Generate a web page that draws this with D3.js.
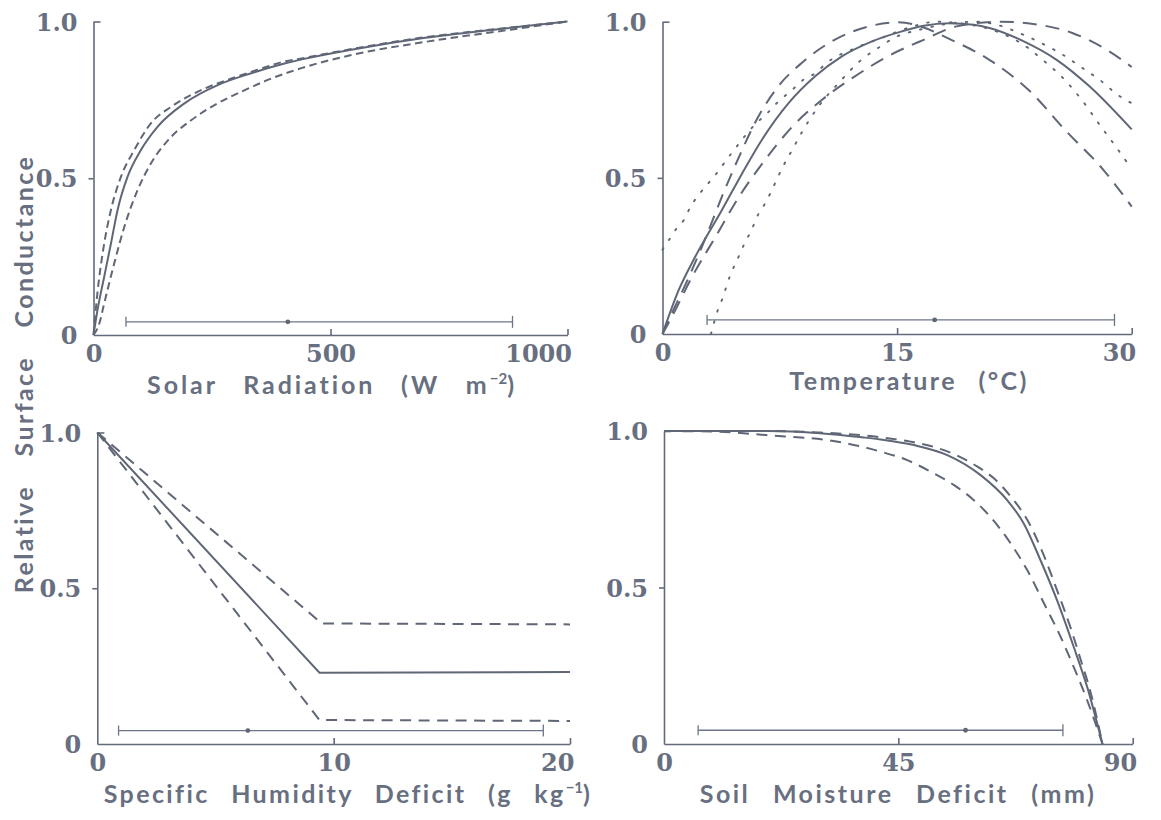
<!DOCTYPE html>
<html>
<head>
<meta charset="utf-8">
<script src="https://cdn.jsdelivr.net/npm/d3@7"></script>
<style>
  body { margin: 0; background: #ffffff; }
  svg { display: block; }
  .tick text { font-family: "DejaVu Serif", serif; font-weight: bold; font-size: 24px; fill: #686f80; }
  .axis path, .axis line { stroke: #626a7b; stroke-width: 1.6; }
  .title { font-family: Lato, "Open Sans", sans-serif; font-weight: bold; font-size: 25px; fill: #686f80; }
</style>
</head>
<body>
<svg id="chart" width="1161" height="820"></svg>
<script>
// ---- Response curves: relative surface conductance (0..1) ----

// Solar radiation (W m-2)
const solarTicks = [0, 500, 1000];
const solarMean  = [[0,0],[8.5,0.08],[22.6,0.186],[36.8,0.292],[50.8,0.399],[71.9,0.505],[100,0.59],[135,0.664],[192,0.739],[262,0.797],[333,0.835],[403,0.866],[442,0.88],[544,0.91],[700,0.948],[857,0.976],[1000,1]];
const solarUpper = [[0,0],[8,0.13],[22.6,0.292],[36.8,0.399],[58,0.505],[86,0.59],[121,0.675],[164,0.728],[227,0.781],[291,0.818],[354,0.85],[396,0.87],[442,0.883],[544,0.912],[700,0.95],[857,0.977],[1000,1]];
const solarLower = [[0,0],[12,0.035],[22.6,0.101],[43.8,0.229],[65,0.345],[93,0.462],[121,0.547],[157,0.621],[206,0.685],[262,0.739],[319,0.781],[375,0.818],[440,0.852],[544,0.893],[700,0.935],[880,0.974],[1000,1]];
const solarRange = [68.5, 410, 884];

// Temperature (°C)
const tempTicks = [0, 15, 30];
const tempMean  = [[0,0],[1.04,0.141],[2.1,0.248],[3.8,0.397],[5.1,0.515],[6.36,0.622],[8.06,0.739],[9.76,0.825],[11.47,0.889],[13.4,0.937],[15.3,0.969],[16.7,0.987],[18.3,0.995],[19.9,0.99],[20.9,0.98],[23.1,0.937],[25.2,0.878],[27.3,0.793],[30,0.655]];
const tempDashEarly = [[0,0],[0.4,0.045],[1.7,0.184],[2.96,0.333],[3.8,0.44],[4.9,0.568],[5.9,0.675],[7.4,0.793],[8.9,0.868],[11.0,0.942],[13.2,0.985],[15.1,0.998],[16.5,0.985],[18.2,0.948],[20.9,0.878],[23.5,0.777],[25.8,0.65],[28.2,0.525],[30,0.408]];
const tempDashLate  = [[0,0],[0.6,0.055],[1.9,0.184],[3.4,0.312],[4.9,0.44],[6.4,0.547],[8.3,0.664],[10.2,0.75],[12.3,0.825],[14.4,0.889],[16.7,0.942],[18.8,0.985],[21.6,1.0],[24.1,0.99],[26.2,0.964],[28.4,0.91],[30,0.855]];
const tempDotEarly  = [[0,0.27],[0.4,0.3],[0.83,0.333],[1.36,0.365],[1.8,0.408],[2.3,0.445],[2.85,0.478],[3.5,0.517],[4.1,0.558],[4.66,0.595],[5.9,0.67],[6.7,0.707],[7.3,0.739],[8.3,0.782],[9.0,0.814],[9.8,0.836],[10.5,0.868],[12.3,0.915],[14.0,0.948],[16,0.985],[17.5,1.0],[19,0.995],[21,0.975],[23.4,0.915],[24.3,0.878],[25.6,0.82],[26.8,0.75],[27.95,0.67],[29.1,0.592],[30,0.528]];
const tempDotLate   = [[3.1,0],[3.5,0.071],[3.8,0.109],[4.3,0.184],[4.87,0.248],[5.3,0.296],[5.7,0.333],[6.0,0.371],[6.5,0.413],[6.9,0.451],[7.3,0.494],[7.7,0.536],[8.3,0.59],[8.9,0.645],[9.98,0.729],[11.25,0.803],[12.6,0.873],[14.0,0.923],[14.8,0.948],[16.5,0.975],[18.5,0.995],[20,1.0],[21.4,0.99],[22.8,0.964],[24.2,0.932],[25.6,0.894],[26.9,0.85],[27.95,0.814],[29.1,0.766],[30,0.739]];
const tempRange = [2.85, 17.4, 28.9];

// Specific humidity deficit (g kg-1)
const humTicks = [0, 10, 20];
const humMean  = [[0,1],[9.4,0.229],[20,0.231]];
const humUpper = [[0,1],[9.5,0.387],[20,0.384]];
const humLower = [[0,1],[9.4,0.077],[20,0.074]];
const humRange = [0.9, 6.37, 18.87];

// Soil moisture deficit (mm)
const soilTicks = [0, 45, 90];
const soilMean  = [[0,1],[20,1.0],[30,0.993],[38,0.98],[41.6,0.973],[48,0.955],[54.4,0.923],[60.8,0.859],[65.9,0.779],[69.1,0.704],[72.3,0.587],[75.5,0.458],[78.7,0.309],[81.3,0.18],[84.2,0]];
const soilUpper = [[0,1],[20,1.0],[30,0.995],[41.6,0.98],[47.3,0.966],[51.2,0.952],[55.7,0.926],[60.2,0.886],[63.4,0.848],[66.6,0.79],[69.8,0.715],[73.0,0.6],[75.5,0.49],[78.1,0.37],[80.0,0.27],[82.0,0.16],[84.2,0]];
const soilLower = [[0,1],[10,0.998],[19.5,0.987],[33.7,0.965],[41.6,0.934],[46.7,0.907],[51.2,0.87],[55.7,0.827],[59.5,0.779],[62.7,0.725],[66.6,0.64],[69.8,0.554],[73.0,0.448],[76.2,0.341],[78.7,0.245],[81.3,0.138],[84.2,0]];
const soilRange = [6.55, 57.9, 76.6];

// height of the range bars, in conductance units
const rangeLevels = [0.042, 0.045, 0.043, 0.044];
const yTicks = [0, 0.5, 1];

// ---- Layout ----
const svg = d3.select("#chart");
const ink = "#5f6676";
const dashStyles = {
  solid: null,
  dashS: "7.5,4.5",
  dashL: "14,9",
  dashM: "11,7.5",
  dot: "1.6,10"
};

const panels = [
  { left: 93.5, right: 567.5, top: 21.5, bottom: 335, domain: [0, 1000], ticks: solarTicks,
    title: [["Solar Radiation (W m", 0], ["−2", 1], [")", 0]], titleX: 332, titleY: 394, ls: 2.9, ws: 17,
    curves: [[solarMean, "solid"], [solarUpper, "dashS"], [solarLower, "dashS"]],
    range: solarRange, level: rangeLevels[0], smooth: true },
  { left: 662.5, right: 1131.7, top: 21.7, bottom: 334, domain: [0, 30], ticks: tempTicks,
    title: [["Temperature (°C)", 0]], titleX: 909, titleY: 390, ls: 2.4, ws: 13,
    curves: [[tempMean, "solid"], [tempDashEarly, "dashL"], [tempDashLate, "dashL"], [tempDotEarly, "dot"], [tempDotLate, "dot"]],
    range: tempRange, level: rangeLevels[1], smooth: true },
  { left: 97.3, right: 570, top: 432.5, bottom: 744, domain: [0, 20], ticks: humTicks,
    title: [["Specific Humidity Deficit (g kg", 0], ["−1", 1], [")", 0]], titleX: 348, titleY: 803, ls: 2.4, ws: 13,
    curves: [[humMean, "solid"], [humUpper, "dashM"], [humLower, "dashM"]],
    range: humRange, level: rangeLevels[2], smooth: false },
  { left: 664, right: 1132.7, top: 431, bottom: 744, domain: [0, 90], ticks: soilTicks,
    title: [["Soil Moisture Deficit (mm)", 0]], titleX: 898, titleY: 803, ls: 2.5, ws: 14,
    curves: [[soilMean, "solid"], [soilUpper, "dashM"], [soilLower, "dashM"]],
    range: soilRange, level: rangeLevels[3], smooth: true }
];

panels.forEach(p => {
  const x = d3.scaleLinear().domain(p.domain).range([p.left, p.right]);
  const y = d3.scaleLinear().domain([0, 1]).range([p.bottom, p.top]);

  // x axis: ticks point up into the plot, last label ends at the axis end
  const gx = svg.append("g").attr("class", "axis")
    .attr("transform", `translate(0,${p.bottom})`)
    .call(d3.axisBottom(x).tickValues(p.ticks).tickSizeInner(-6).tickSizeOuter(0).tickPadding(10)
      .tickFormat(d3.format("d")));
  gx.selectAll(".tick line").filter(d => d === 0).remove();
  gx.selectAll(".tick text").filter(d => d === p.domain[1])
    .attr("text-anchor", "end").attr("x", 4);
  gx.selectAll(".tick text").attr("dy", "0.72em");

  // y axis
  const gy = svg.append("g").attr("class", "axis")
    .attr("transform", `translate(${p.left},0)`)
    .call(d3.axisLeft(y).tickValues(yTicks).tickSizeInner(0).tickSizeOuter(0).tickPadding(16)
      .tickFormat(d => d === 0 ? "0" : d3.format(".1f")(d)));
  gy.selectAll(".tick line").attr("x2", d => d === 1 ? 7 : (d === 0.5 ? -5 : 0));
  gy.selectAll(".tick text").attr("dy", "0.36em");

  // curves
  const line = d3.line().x(d => x(d[0])).y(d => y(d[1]))
    .curve(p.smooth ? d3.curveMonotoneX : d3.curveLinear);
  p.curves.forEach(([data, style]) => {
    svg.append("path")
      .attr("d", line(data))
      .attr("fill", "none")
      .attr("stroke", ink)
      .attr("stroke-width", style === "dot" ? 1.9 : 2)
      .attr("stroke-linecap", style === "dot" ? "round" : "butt")
      .attr("stroke-dasharray", dashStyles[style]);
  });

  // range bar with mean marker
  const [lo, mid, hi] = p.range;
  const by = y(p.level);
  const g = svg.append("g").attr("stroke", "#6c7588").attr("stroke-width", 1.3);
  g.append("line").attr("x1", x(lo)).attr("x2", x(hi)).attr("y1", by).attr("y2", by);
  g.append("line").attr("x1", x(lo)).attr("x2", x(lo)).attr("y1", by - 5).attr("y2", by + 5);
  g.append("line").attr("x1", x(hi)).attr("x2", x(hi)).attr("y1", by - 6).attr("y2", by + 6);
  svg.append("circle").attr("cx", x(mid)).attr("cy", by).attr("r", 2.4).attr("fill", ink);

  // axis title
  const t = svg.append("text").attr("class", "title")
    .attr("x", p.titleX).attr("y", p.titleY)
    .attr("text-anchor", "middle")
    .attr("letter-spacing", p.ls)
    .attr("word-spacing", p.ws);
  p.title.forEach(([s, sup], i) => {
    const ts = t.append("tspan").text(s);
    if (sup) ts.attr("dy", -10).attr("font-size", 15).attr("letter-spacing", 0);
    else if (i > 0) ts.attr("dy", 10);
  });
});

// shared y title
svg.append("text").attr("class", "title")
  .attr("transform", "translate(33,374) rotate(-90)")
  .attr("text-anchor", "middle")
  .attr("font-size", 26)
  .attr("letter-spacing", 2.4)
  .attr("word-spacing", 20)
  .text("Relative Surface Conductance");
</script>
</body>
</html>
